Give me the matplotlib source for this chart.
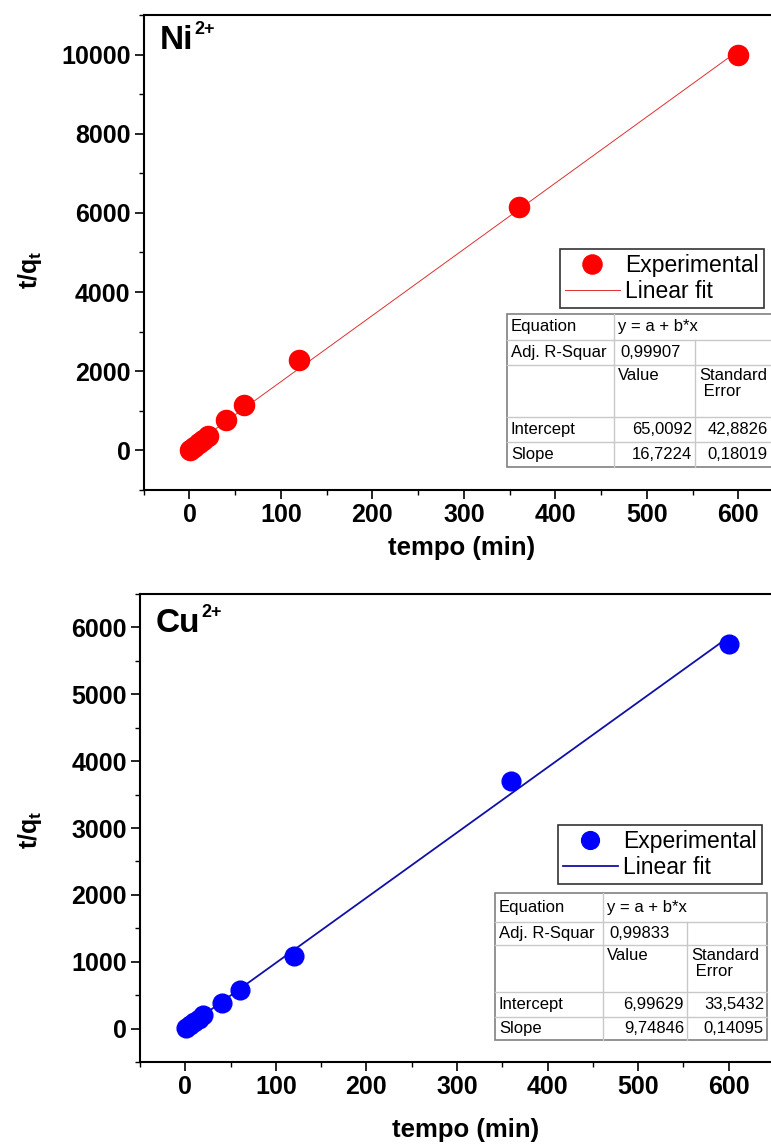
import matplotlib
matplotlib.use("Agg")
import matplotlib.pyplot as plt
from matplotlib.lines import Line2D
from matplotlib.patches import Rectangle
from matplotlib.ticker import MultipleLocator
import numpy as np

plt.rcParams['font.family'] = ['Liberation Sans', 'DejaVu Sans']
plt.rcParams['mathtext.fontset'] = 'custom'
plt.rcParams['mathtext.rm'] = 'Liberation Sans'
plt.rcParams['mathtext.bf'] = 'Liberation Sans:bold'
plt.rcParams['mathtext.it'] = 'Liberation Sans:italic'

# ---------------- data ----------------
time_min = [1, 5, 10, 15, 20, 40, 60, 120, 360, 600]
ni_tq = [20, 90, 180, 270, 370, 760, 1150, 2280, 6140, 10000]
cu_tq = [10, 50, 100, 150, 210, 380, 575, 1090, 3700, 5750]

ni_fit = {"intercept": 65.0092, "slope": 16.7224}
cu_fit = {"intercept": 6.99629, "slope": 9.74846}

ni_table = [["Equation", "y = a + b*x", ""],
            ["Adj. R-Squar", "0,99907", ""],
            ["", "Value", "Standard\n Error"],
            ["Intercept", "65,0092", "42,8826"],
            ["Slope", "16,7224", "0,18019"]]
cu_table = [["Equation", "y = a + b*x", ""],
            ["Adj. R-Squar", "0,99833", ""],
            ["", "Value", "Standard\n Error"],
            ["Intercept", "6,99629", "33,5432"],
            ["Slope", "9,74846", "0,14095"]]

W, H = 771, 1148
fig = plt.figure(figsize=(W / 100, H / 100), dpi=100)


def fx(x):
    return x / W


def fy(y):
    return 1 - y / H


def make_axes(left, right, top, bottom):
    return fig.add_axes([fx(left), fy(bottom), (right - left) / W, (bottom - top) / H])


def style_axes(ax, ylim, ymaj, ymin):
    ax.set_xlim(-50, 650)
    ax.set_ylim(*ylim)
    ax.xaxis.set_major_locator(MultipleLocator(100))
    ax.xaxis.set_minor_locator(MultipleLocator(50))
    ax.yaxis.set_major_locator(MultipleLocator(ymaj))
    ax.yaxis.set_minor_locator(MultipleLocator(ymin))
    ax.tick_params(which='major', direction='out', length=6.5, width=1.2,
                   labelsize=18, pad=3, top=False, right=False)
    ax.tick_params(which='minor', direction='out', length=3.5, width=1.0,
                   top=False, right=False)
    for lab in ax.get_xticklabels() + ax.get_yticklabels():
        lab.set_fontweight('bold')
    for s in ['left', 'bottom', 'top']:
        ax.spines[s].set_linewidth(1.5)
    ax.spines['right'].set_visible(False)


def draw_table(rows, left, cols, rowy, text_right, fs=12):
    right = cols[-1]
    top, bottom = rowy[0], rowy[-1]
    fig.add_artist(Rectangle((fx(left), fy(bottom)), (right - left) / W, (bottom - top) / H,
                             transform=fig.transFigure, facecolor='white',
                             edgecolor='#808080', lw=1.2, zorder=5))
    for y in rowy[1:-1]:
        fig.add_artist(Line2D([fx(left), fx(right)], [fy(y), fy(y)],
                              transform=fig.transFigure, color='#c8c8c8', lw=1.0, zorder=6))
    for i, x in enumerate(cols[1:-1]):
        y0 = rowy[0] if i == 0 else rowy[1]
        fig.add_artist(Line2D([fx(x), fx(x)], [fy(y0), fy(bottom)],
                              transform=fig.transFigure, color='#c8c8c8', lw=1.0, zorder=6))
    colx = [left] + cols[1:-1]
    rights = [cols[1] - 3, cols[2] - 3, text_right]
    for r, row in enumerate(rows):
        ytop, ybot = rowy[r], rowy[r + 1]
        for c, txt in enumerate(row):
            if not txt:
                continue
            if r == 2:
                fig.text(fx(colx[c] + 4), fy(ytop + 3), txt, ha='left', va='top',
                         fontsize=fs, zorder=7, linespacing=1.05)
            elif r >= 3 and c >= 1:
                fig.text(fx(rights[c]), fy((ytop + ybot) / 2), txt, ha='right',
                         va='center', fontsize=fs, zorder=7)
            elif r == 1 and c == 1:
                fig.text(fx(colx[c] + 6), fy((ytop + ybot) / 2), txt, ha='left',
                         va='center', fontsize=fs, zorder=7)
            else:
                fig.text(fx(colx[c] + 4), fy((ytop + ybot) / 2), txt, ha='left',
                         va='center', fontsize=fs, zorder=7)


def panel(ax, tq, fit, color, linecolor, lw, ms, ion, legend_anchor, label_y):
    x = np.array(time_min)
    xf = np.array([min(time_min), max(time_min)])
    yf = fit["intercept"] + fit["slope"] * xf
    ax.plot(xf, yf, color=linecolor, lw=lw, label='Linear fit', zorder=2)
    ax.plot(x, tq, 'o', color=color, ms=ms, mec=color, label='Experimental', zorder=3)
    h, l = ax.get_legend_handles_labels()
    leg = ax.legend([h[1], h[0]], [l[1], l[0]], loc='upper left',
                    bbox_to_anchor=legend_anchor, bbox_transform=fig.transFigure,
                    frameon=True, fancybox=False, edgecolor='black', fontsize=16.5,
                    handlelength=2.4, handletextpad=0.25, borderpad=0.2,
                    labelspacing=0.15, borderaxespad=0, markerscale=0.95)
    leg.get_frame().set_linewidth(1.2)
    leg.set_zorder(10)
    t = ax.text(0.025, label_y, ion, transform=ax.transAxes, ha='left', va='top',
                fontsize=24, fontweight='bold')
    ax.annotate('2+', xy=(1, 1), xycoords=t, xytext=(1, -9), textcoords='offset points',
                ha='left', va='bottom', fontsize=13, fontweight='bold')


# ---------------- top panel (Ni) ----------------
ax1 = make_axes(143.75, 784, 15, 490)
style_axes(ax1, (-1000, 11000), 2000, 1000)
panel(ax1, ni_tq, ni_fit, '#ff0000', '#e03030', 0.7, 14.5, 'Ni', (fx(560), fy(249)), 0.978)
fig.text(fx(30), fy(270), r'$\mathbf{t/q_t}$', rotation=90, ha='center', va='center',
         fontsize=18)
fig.text(fx(462), fy(548), 'tempo (min)', ha='center', va='center', fontsize=18.5,
         fontweight='bold')
draw_table(ni_table, 507, [507, 614, 695, 778], [314, 340, 365, 417, 442, 467], 768)

# ---------------- bottom panel (Cu) ----------------
ax2 = make_axes(140, 774, 594, 1062)
style_axes(ax2, (-500, 6500), 1000, 500)
panel(ax2, cu_tq, cu_fit, '#0000ff', '#1010a8', 1.3, 13.5, 'Cu', (fx(558), fy(825)), 0.97)
fig.text(fx(30), fy(830), r'$\mathbf{t/q_t}$', rotation=90, ha='center', va='center',
         fontsize=18)
fig.text(fx(466), fy(1130), 'tempo (min)', ha='center', va='center', fontsize=18.5,
         fontweight='bold')
draw_table(cu_table, 495, [495, 603, 687, 767], [893, 922, 945, 992, 1017, 1040], 764)

fig.savefig('out.png', dpi=100)
